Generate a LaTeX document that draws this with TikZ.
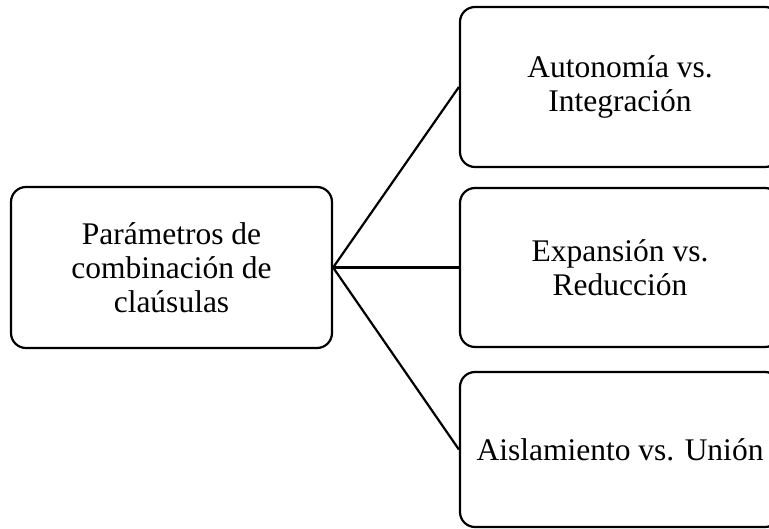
\documentclass[tikz,border=0pt]{standalone}
\usepackage{fontspec}
\setmainfont{Liberation Serif}
\begin{document}
\begin{tikzpicture}[x=1pt,y=-1pt,
  box/.style={draw=black, line width=2.2pt, rounded corners=15pt, fill=white,
    align=center, inner sep=0pt, font=\fontsize{31.5}{34}\selectfont},
  link/.style={draw=black, line width=2.2pt}]
\useasboundingbox (0,0) rectangle (769,529);
\clip (0,0) rectangle (769,529);
\fill[white] (0,0) rectangle (769,529);
\node[box, minimum width=321pt, minimum height=161pt] (root) at (171.5,267.5)
  {Parámetros de\\combinación de\\claúsulas};
\node[box, minimum width=320pt, minimum height=160pt] (a) at (620,87)
  {Autonomía vs.\\Integración};
\node[box, minimum width=320pt, minimum height=159pt] (b) at (620,267.5)
  {Expansión vs.\\Reducción};
\node[box, minimum width=320pt, minimum height=155pt] (c) at (620,449.5)
  {Aislamiento vs. Unión};
\draw[link] (root.east) -- (a.west);
\draw[link] (root.east) -- (b.west);
\draw[link] (root.east) -- (c.west);
\end{tikzpicture}
\end{document}
